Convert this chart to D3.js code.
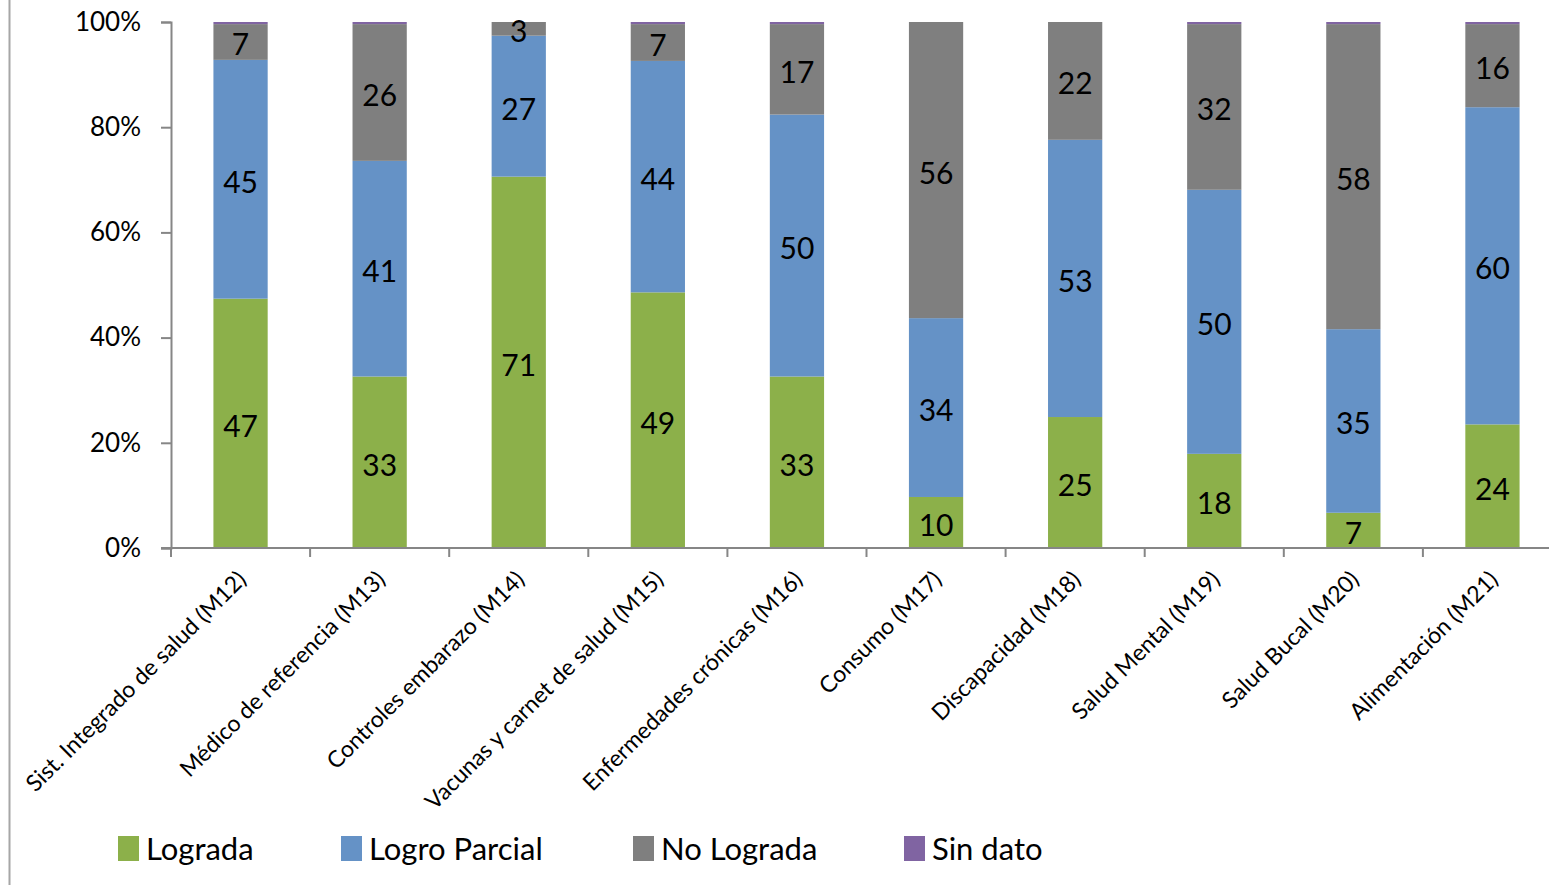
<!DOCTYPE html>
<html>
<head>
<meta charset="utf-8">
<script src="https://cdn.jsdelivr.net/npm/d3@7"></script>
<style>
  body { margin: 0; background: #fff; }
  svg { display: block; font-family: Lato, "Open Sans", sans-serif; }
</style>
</head>
<body>
<svg id="chart" width="1549" height="885"></svg>
<script>
// categories and series (percent of each bar)
const categories = ['Sist. Integrado de salud (M12)', 'Médico de referencia (M13)', 'Controles embarazo (M14)',
  'Vacunas y carnet de salud (M15)', 'Enfermedades crónicas (M16)', 'Consumo (M17)', 'Discapacidad (M18)',
  'Salud Mental (M19)', 'Salud Bucal (M20)', 'Alimentación (M21)'];
const lograda      = [47.4, 32.6, 70.6, 48.6, 32.6,  9.7, 24.9, 17.9,  6.7, 23.5];
const logroParcial = [45.4, 41.0, 26.8, 44.0, 49.8, 34.0, 52.7, 50.2, 34.9, 60.3];
const noLograda    = [ 6.8, 26.0,  2.6,  7.0, 17.2, 56.3, 22.4, 31.5, 58.0, 15.8];
const sinDato      = [ 0.4,  0.4,  0,    0.4,  0.4,  0,    0,    0.4,  0.4,  0.4];
const seriesNames = ['Lograda', 'Logro Parcial', 'No Lograda', 'Sin dato'];
const seriesColors = ['#8cb04a', '#6592c6', '#7f7f7f', '#8064a2'];
const yTicks = [0, 20, 40, 60, 80, 100];

const svg = d3.select('#chart');
const margin = {left: 171, top: 22, bottom: 337};
const height = 885;

let rows = categories.map((c, i) => ({
  cat: c, 'Lograda': lograda[i], 'Logro Parcial': logroParcial[i],
  'No Lograda': noLograda[i], 'Sin dato': sinDato[i]
}));
let stacked = d3.stack().keys(seriesNames)(rows);

let x = d3.scaleBand().domain(categories)
  .range([margin.left, margin.left + 139.1 * categories.length])
  .paddingInner(0.61).paddingOuter(0.305);
let y = d3.scaleLinear().domain([0, 100]).range([height - margin.bottom, margin.top]);

// left frame line
svg.append('line').attr('x1', 9.5).attr('x2', 9.5).attr('y1', 0).attr('y2', height)
  .attr('stroke', '#a6a6a6').attr('stroke-width', 2);

// bars
let layer = svg.selectAll('.layer').data(stacked).enter().append('g')
  .attr('fill', (d, i) => seriesColors[i]);
layer.selectAll('rect').data(d => d).enter().append('rect')
  .attr('x', d => x(d.data.cat))
  .attr('width', x.bandwidth())
  .attr('y', d => y(d[1]))
  .attr('height', d => y(d[0]) - y(d[1]));

// data labels (first three series)
stacked.slice(0, 3).forEach(s => {
  svg.append('g').selectAll('text').data(s).enter().append('text')
    .attr('x', d => x(d.data.cat) + x.bandwidth() / 2)
    .attr('y', d => (y(d[0]) + y(d[1])) / 2)
    .attr('dy', '0.45em')
    .attr('text-anchor', 'middle')
    .style('font-size', '30px')
    .attr('fill', '#000')
    .text(d => Math.round(d[1] - d[0]));
});

// y axis
let yAxis = svg.append('g').attr('transform', `translate(${margin.left},0)`)
  .call(d3.axisLeft(y).tickValues(yTicks).tickFormat(d => d + '%').tickSize(10).tickPadding(20));
yAxis.select('.domain').attr('stroke', '#868686').attr('stroke-width', 2);
yAxis.selectAll('.tick line').attr('stroke', '#868686').attr('stroke-width', 2);
yAxis.selectAll('text').style('font-size', '26px').attr('fill', '#000').attr('font-family', 'Lato, sans-serif');

// x axis line and ticks between categories
let x0 = y(0);
svg.append('line').attr('x1', margin.left - 10).attr('x2', 1549).attr('y1', x0).attr('y2', x0)
  .attr('stroke', '#868686').attr('stroke-width', 2);
let bounds = d3.range(categories.length + 1).map(i => margin.left + i * x.step());
svg.append('g').selectAll('line').data(bounds).enter().append('line')
  .attr('x1', d => d).attr('x2', d => d).attr('y1', x0).attr('y2', x0 + 9)
  .attr('stroke', '#868686').attr('stroke-width', 2);

// category labels
svg.append('g').selectAll('text').data(categories).enter().append('text')
  .attr('transform', d => `translate(${x(d) + x.bandwidth() / 2 + 7},${x0 + 33}) rotate(-45)`)
  .attr('text-anchor', 'end')
  .style('font-size', '23px')
  .text(d => d);

// legend
let legendX = [118, 341, 633, 904];
let legend = svg.append('g').selectAll('g').data(seriesNames).enter().append('g')
  .attr('transform', (d, i) => `translate(${legendX[i]},836)`);
legend.append('rect').attr('width', 21).attr('height', 25).attr('fill', (d, i) => seriesColors[i]);
legend.append('text').attr('x', 28).attr('y', 24).style('font-size', '31px').text(d => d);
</script>
</body>
</html>
